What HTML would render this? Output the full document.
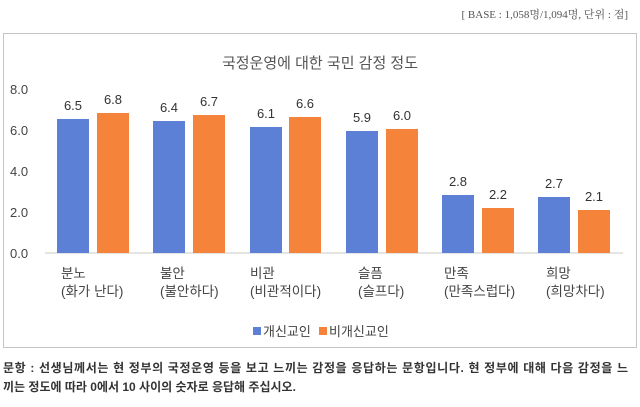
<!DOCTYPE html>
<html><head><meta charset="utf-8"><style>
body{margin:0;width:640px;height:407px;background:#fff;overflow:hidden;position:relative;font-family:"Liberation Sans","Noto Sans CJK KR",sans-serif}
.a{position:absolute;white-space:nowrap}
</style></head><body>
<div class="a" style="right:12px;top:6px;font-family:'Liberation Serif','Noto Serif CJK SC',serif;font-size:11px;color:#555">[ BASE : 1,058명/1,094명, 단위 : 점]</div>
<div class="a" style="left:3px;top:33px;width:632px;height:313px;border:1.5px solid #c4c4c4"></div>
<svg class="a" style="left:0;top:0" width="640" height="407" font-family="Liberation Sans, Noto Sans CJK KR, sans-serif">
<text x="320" y="68" text-anchor="middle" font-size="15" fill="#555">국정운영에 대한 국민 감정 정도</text>
<g font-size="13" fill="#444">
<text x="10" y="94">8.0</text><text x="10" y="135">6.0</text><text x="10" y="176">4.0</text><text x="10" y="217">2.0</text><text x="10" y="258">0.0</text>
</g>
<line x1="45" y1="253" x2="623" y2="253" stroke="#c8c8c8" stroke-width="1"/>
<g fill="#5b80d6">
<rect x="57" y="119" width="32" height="134"/><rect x="153" y="121" width="32" height="132"/><rect x="250" y="127" width="32" height="126"/><rect x="346" y="131" width="32" height="122"/><rect x="442" y="195" width="32" height="58"/><rect x="538" y="197" width="32" height="56"/>
</g>
<g fill="#f5833a">
<rect x="97" y="113" width="32" height="140"/><rect x="193" y="115" width="32" height="138"/><rect x="289" y="117" width="32" height="136"/><rect x="386" y="129" width="32" height="124"/><rect x="482" y="208" width="32" height="45"/><rect x="578" y="210" width="32" height="43"/>
</g>
<g font-size="13" fill="#333" text-anchor="middle">
<text x="73" y="110">6.5</text><text x="113" y="104">6.8</text>
<text x="169" y="112">6.4</text><text x="209" y="106">6.7</text>
<text x="266" y="118">6.1</text><text x="305" y="108">6.6</text>
<text x="362" y="122">5.9</text><text x="402" y="120">6.0</text>
<text x="458" y="186">2.8</text><text x="498" y="199">2.2</text>
<text x="554" y="188">2.7</text><text x="594" y="201">2.1</text>
</g>
<g font-size="13.5" fill="#444">
<text x="61" y="278">분노</text><text x="61" y="296">(화가 난다)</text>
<text x="160" y="278">불안</text><text x="160" y="296">(불안하다)</text>
<text x="250" y="278">비관</text><text x="250" y="296">(비관적이다)</text>
<text x="358" y="278">슬픔</text><text x="358" y="296">(슬프다)</text>
<text x="444" y="278">만족</text><text x="444" y="296">(만족스럽다)</text>
<text x="546" y="278">희망</text><text x="546" y="296">(희망차다)</text>
</g>
<rect x="253" y="327" width="8" height="8" fill="#5b80d6"/>
<text x="263" y="336" font-size="13" fill="#444">개신교인</text>
<rect x="319" y="327" width="8" height="8" fill="#f5833a"/>
<text x="329" y="336" font-size="13" fill="#444">비개신교인</text>
<g font-size="12" fill="#333" font-weight="bold">
<text x="3" y="372" textLength="625">문항 : 선생님께서는 현 정부의 국정운영 등을 보고 느끼는 감정을 응답하는 문항입니다. 현 정부에 대해 다음 감정을 느</text>
<text x="3" y="391">끼는 정도에 따라 0에서 10 사이의 숫자로 응답해 주십시오.</text>
</g>
</svg>
</body></html>
